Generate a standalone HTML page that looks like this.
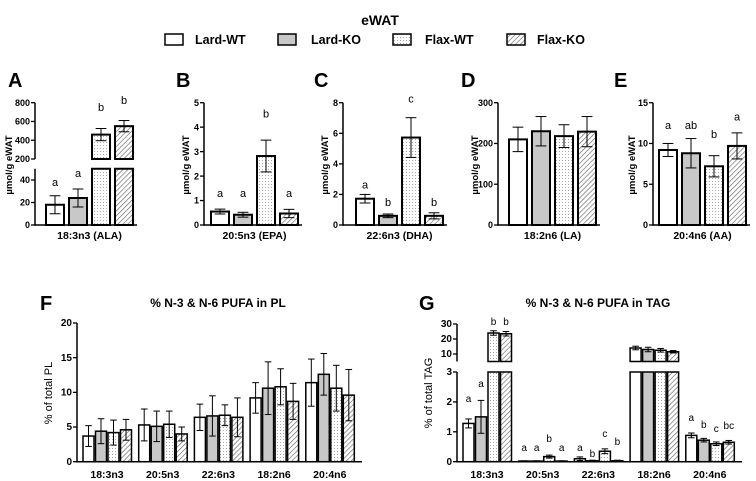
<!DOCTYPE html>
<html><head><meta charset="utf-8"><style>
html,body{margin:0;padding:0;background:#fff}
svg{display:block;font-family:"Liberation Sans",Arial,sans-serif;font-weight:bold}
</style></head><body>
<svg id="fig" width="756" height="481" viewBox="0 0 756 481" xmlns="http://www.w3.org/2000/svg">
<defs>
<pattern id="dots" width="3" height="3" patternUnits="userSpaceOnUse"><rect width="3" height="3" fill="#fff"/><rect x="1" y="1" width="1" height="1" fill="#aaa"/></pattern>
<pattern id="hatch" width="3.5" height="3.5" patternUnits="userSpaceOnUse" patternTransform="rotate(45)"><rect width="3.5" height="3.5" fill="#fff"/><line x1="0" y1="0" x2="0" y2="3.5" stroke="#666" stroke-width="1.3"/></pattern>
</defs>
<text x="380" y="25" font-size="14" text-anchor="middle">eWAT</text>
<g font-size="12.5">
<g><rect x="165" y="34" width="18" height="11" fill="#fff" stroke="#000" stroke-width="1.5"/><text x="195" y="44">Lard-WT</text></g>
<g><rect x="278" y="34" width="18" height="11" fill="#c8c8c8" stroke="#000" stroke-width="1.5"/><text x="311" y="44">Lard-KO</text></g>
<g><rect x="393" y="34" width="18" height="11" fill="url(#dots)" stroke="#000" stroke-width="1.5"/><text x="425" y="44">Flax-WT</text></g>
<g><rect x="507" y="34" width="18" height="11" fill="url(#hatch)" stroke="#000" stroke-width="1.5"/><text x="537" y="44">Flax-KO</text></g>
</g>
<g id="plots"></g>
</svg>
<script>
// ---- data ----
const groups = ['Lard-WT','Lard-KO','Flax-WT','Flax-KO'];
const aMeans = [18, 24, 460, 550];
const aErr = [8, 8, 65, 60];
const aLetters = ['a','a','b','b'];
const aLetterPos = [34.7, 42.7, 712, 786];
const bMeans = [0.55, 0.42, 2.82, 0.47];
const bErr = [0.1, 0.1, 0.65, 0.17];
const bLetters = ['a','a','b','a'];
const bLetterPos = [1.14, 1.14, 4.4, 1.14];
const cMeans = [1.72, 0.6, 5.72, 0.6];
const cErr = [0.28, 0.12, 1.3, 0.2];
const cLetters = ['a','b','c','b'];
const cLetterPos = [2.4, 1.24, 8.4, 1.24];
const dMeans = [210, 230, 218, 229];
const dErr = [30, 36, 28, 37];
const eMeans = [9.2, 8.8, 7.2, 9.7];
const eErr = [0.8, 1.8, 1.3, 1.6];
const eLetters = ['a','ab','b','a'];
const eLetterPos = [11.8, 11.8, 10.7, 12.8];
const fattyAcids = ['18:3n3','20:5n3','22:6n3','18:2n6','20:4n6'];
const fMeans = [[3.7,4.4,4.2,4.6],[5.3,5.1,5.4,4.0],[6.4,6.6,6.7,6.4],[9.2,10.6,10.8,8.7],[11.4,12.6,10.6,9.6]];
const fErr = [[1.5,1.8,1.8,1.5],[2.3,2.2,1.9,1.0],[1.9,2.9,1.5,2.8],[2.2,3.8,2.6,2.6],[3.4,3.0,3.3,3.7]];
const gMeans = [[1.28,1.5,24,23.5],[0.02,0.02,0.17,0.02],[0.1,0.03,0.35,0.03],[14,13,12.5,11.5],[0.88,0.72,0.6,0.65]];
const gErr = [[0.15,0.55,1.5,1.5],[0.01,0.01,0.05,0.01],[0.06,0.02,0.08,0.02],[1.2,1.5,1.2,0.8],[0.08,0.06,0.06,0.06]];
const gLetters = [['a','a','b','b'],['a','a','b','a'],['a','b','c','b'],['','','',''],['a','b','c','bc']];
const gLetterPos = [[2.0,2.5,29.5,29.5],[0.36,0.36,0.66,0.36],[0.36,0.16,0.83,0.56],[0,0,0,0],[1.36,1.13,1.0,1.1]];
const tickA = [[0,20,40],[200,400,600,800]];
const tickB = [[0,1,2,3,4,5]];
const tickC = [[0,2,4,6,8]];
const tickD = [[0,100,200,300]];
const tickE = [[0,5,10,15]];
const tickF = [[0,5,10,15,20]];
const tickG = [[0,1,2,3],[10,20,30]];

const NS='http://www.w3.org/2000/svg';
const root=document.getElementById('plots');
const fills=['#fff','#c8c8c8','url(#dots)','url(#hatch)'];
function mk(tag,attrs,parent){const e=document.createElementNS(NS,tag);for(const k in attrs)e.setAttribute(k,attrs[k]);(parent||root).appendChild(e);return e;}
function txt(s,attrs,parent){const e=mk('text',attrs,parent);e.textContent=s;return e;}
function segScale(seg,v){return seg.yb-(v-seg.min)*(seg.yb-seg.yt)/(seg.max-seg.min);}
function yOf(segs,v){for(let i=segs.length-1;i>=0;i--){if(v>=segs[i].min||i==0)return segScale(segs[i],Math.min(v,segs[i].max));}}
function drawAxis(g,ax,segs,ticks,xEnd,base,fs){
  segs.forEach((s,i)=>{
    mk('line',{x1:ax,x2:ax,y1:s.yb+(i==0?0.75:0),y2:s.yt,stroke:'#000','stroke-width':1.5},g);
    ticks[i].forEach(t=>{const y=segScale(s,t);
      mk('line',{x1:ax-4,x2:ax,y1:y,y2:y,stroke:'#000','stroke-width':1.3},g);
      const l=txt(String(t),{x:ax-5,y:y+3.2,'font-size':fs,'text-anchor':'end'},g);
      
      
    });
  });
  mk('line',{x1:ax,x2:xEnd,y1:base,y2:base,stroke:'#000','stroke-width':1.5},g);
}
function drawBar(g,x,w,segs,v,err,fill,sw){
  segs.forEach((s,i)=>{
    if(v<s.min && i>0)return;
    const top=segScale(s,Math.min(v,s.max));
    const r=mk('rect',{x:x,y:top,width:w,height:s.yb-top,fill:fill,stroke:'#000','stroke-width':sw},g);
    
    
  });
  const cx=x+w/2,y1=yOf(segs,v+err),y2=yOf(segs,Math.max(v-err,0));
  const cw=w*0.3;
  mk('line',{x1:cx,x2:cx,y1:y1,y2:y2,stroke:'#000','stroke-width':1},g);
  mk('line',{x1:cx-cw,x2:cx+cw,y1:y1,y2:y1,stroke:'#000','stroke-width':1},g);
  mk('line',{x1:cx-cw,x2:cx+cw,y1:y2,y2:y2,stroke:'#000','stroke-width':1},g);
}
function smallPanel(o){
  const g=mk('g',{});
  txt(o.letter,{x:o.lx,y:87,'font-size':20},g);
  const base=o.segs[0].yb;
  drawAxis(g,o.ax,o.segs,o.ticks,o.x0+3*23+18+4,base,9);
  o.means.forEach((m,i)=>{
    const x=o.x0+i*23;
    drawBar(g,x,18,o.segs,m,o.err[i],fills[i],2);
    if(o.letters){const t=txt(o.letters[i],{x:x+9,y:yOf(o.segs,o.lpos[i]),'font-size':11,'font-weight':'normal','text-anchor':'middle'},g);
      
      }
  });
  const xl=txt(o.xlabel,{x:o.x0+43.5,y:239,'font-size':10.5,'text-anchor':'middle'},g);
  
  
  const yt=txt('µmol/g eWAT',{x:0,y:0,'font-size':9.5,'text-anchor':'middle',transform:`translate(${o.tx},165) rotate(-90)`},g);
  
  
}
smallPanel({name:'panel-a',letter:'A',lx:8,ax:35,x0:46,tx:12,segs:[{min:0,max:50,yb:225,yt:168.75},{min:200,max:800,yb:159,yt:102.7}],ticks:tickA,means:aMeans,err:aErr,letters:aLetters,lpos:aLetterPos,xlabel:'18:3n3 (ALA)'});
smallPanel({name:'panel-b',letter:'B',lx:176,ax:204,x0:211,tx:189,segs:[{min:0,max:5,yb:225,yt:102.7}],ticks:tickB,means:bMeans,err:bErr,letters:bLetters,lpos:bLetterPos,xlabel:'20:5n3 (EPA)'});
smallPanel({name:'panel-c',letter:'C',lx:314,ax:343,x0:356,tx:328,segs:[{min:0,max:8,yb:225,yt:102.7}],ticks:tickC,means:cMeans,err:cErr,letters:cLetters,lpos:cLetterPos,xlabel:'22:6n3 (DHA)'});
smallPanel({name:'panel-d',letter:'D',lx:461,ax:498,x0:509,tx:478,segs:[{min:0,max:300,yb:225,yt:102.7}],ticks:tickD,means:dMeans,err:dErr,letters:null,xlabel:'18:2n6 (LA)'});
smallPanel({name:'panel-e',letter:'E',lx:614,ax:653,x0:659,tx:635,segs:[{min:0,max:15,yb:225,yt:102.7}],ticks:tickE,means:eMeans,err:eErr,letters:eLetters,lpos:eLetterPos,xlabel:'20:4n6 (AA)'});

function groupPanel(o){
  const g=mk('g',{});
  txt(o.letter,{x:o.lx,y:310,'font-size':20},g);
  const t=txt(o.title,{x:o.tcx,y:307,'font-size':12,'text-anchor':'middle'},g);
  
  
  const base=o.segs[0].yb;
  drawAxis(g,o.ax,o.segs,o.ticks,o.ax+285,base,10);
  fattyAcids.forEach((fa,gi)=>{
    const gx=o.ax+6+gi*55.7;
    o.means[gi].forEach((m,i)=>{
      const x=gx+i*12.5;
      drawBar(g,x,11,o.segs,m,o.err[gi][i],fills[i],1.5);
      if(o.letters && o.letters[gi][i]){const l=txt(o.letters[gi][i],{x:x+5.5,y:yOf(o.segs,o.lpos[gi][i]),'font-size':10,'font-weight':'normal','text-anchor':'middle'},g);
        
        }
    });
    const xl=txt(fa,{x:gx+24,y:478,'font-size':10.5,'text-anchor':'middle'},g);
    
    
  });
  const yt=txt(o.ytitle,{x:0,y:0,'font-size':11,'font-weight':'normal','text-anchor':'middle',transform:`translate(${o.tx},393) rotate(-90)`},g);
  
  
}
groupPanel({name:'panel-f',letter:'F',lx:40,title:'% N-3 & N-6 PUFA in PL',tcx:218,ax:77,tx:52,segs:[{min:0,max:20,yb:461.7,yt:323}],ticks:tickF,means:fMeans,err:fErr,letters:null,ytitle:'% of total PL'});
groupPanel({name:'panel-g',letter:'G',lx:419,title:'% N-3 & N-6 PUFA in TAG',tcx:598,ax:457,tx:432,segs:[{min:0,max:3,yb:461.7,yt:372},{min:5,max:30,yb:361.5,yt:324}],ticks:tickG,means:gMeans,err:gErr,letters:gLetters,lpos:gLetterPos,ytitle:'% of total TAG'});
</script>
</body></html>
